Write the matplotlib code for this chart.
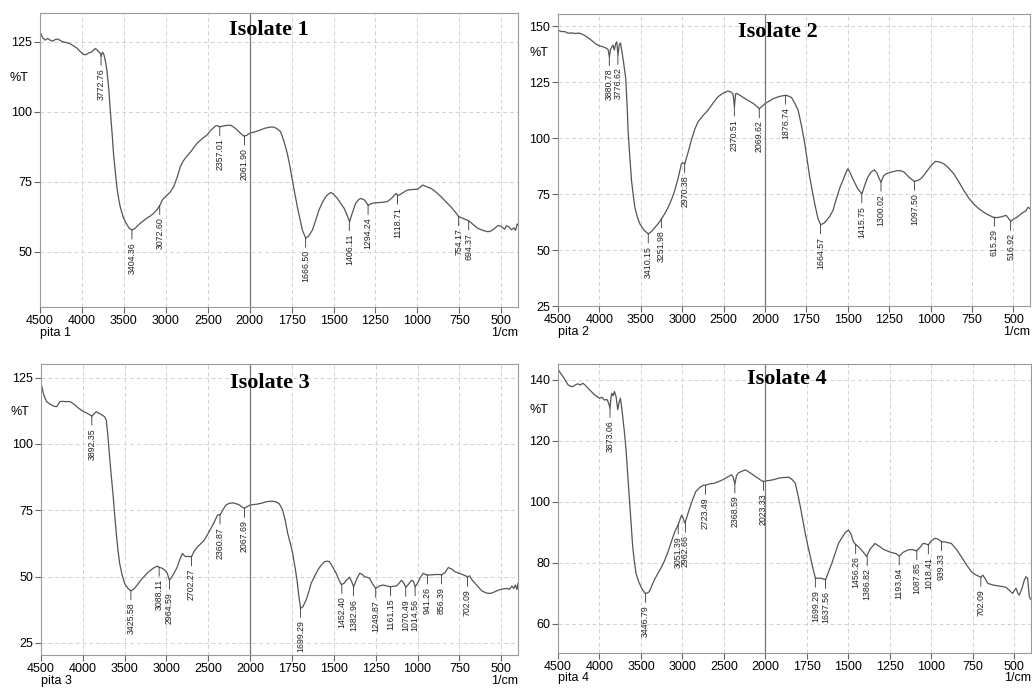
import numpy as np
import matplotlib
matplotlib.use("Agg")
import matplotlib.pyplot as plt

plt.rcParams['font.family'] = ['Liberation Sans', 'DejaVu Sans']

# ---- spectrum data (wavenumber 1/cm, %T) ----
w1 = [4500, 4470, 4440, 4410, 4380, 4350, 4320, 4290, 4261, 4230, 4200, 4170, 4141, 4100, 4062, 4020,
      3982, 3950, 3922, 3890, 3863, 3840, 3823, 3800, 3783, 3772, 3755, 3740, 3720, 3703, 3680, 3663,
      3640, 3624, 3600, 3584, 3560, 3544, 3510, 3484, 3440, 3404, 3370, 3340, 3305, 3260, 3225, 3180,
      3145, 3100, 3072, 3040, 3010, 2986, 2950, 2906, 2860, 2827, 2790, 2747, 2700, 2660, 2628, 2570,
      2508, 2460, 2408, 2380, 2357, 2320, 2280, 2229, 2190, 2149, 2110, 2070, 2040, 2000, 1970, 1936,
      1910, 1880, 1856, 1836, 1816, 1796, 1776, 1760, 1746, 1730, 1716, 1700, 1686, 1666, 1648, 1626,
      1605, 1587, 1567, 1547, 1530, 1517, 1500, 1477, 1455, 1437, 1418, 1404, 1390, 1368, 1350, 1338,
      1320, 1308, 1294, 1270, 1238, 1210, 1178, 1150, 1128, 1118, 1108, 1080, 1059, 1030, 999, 980,
      969, 945, 919, 890, 859, 830, 800, 775, 754, 725, 694, 670, 640, 610, 580, 560, 540, 520, 505,
      490, 480, 470, 455, 440, 425, 415, 405, 400]
t1 = [128.6, 126.5, 125.6, 126.2, 125.6, 125.2, 125.8, 126.0, 125.5, 125.0, 124.8, 124.6, 124.3, 123.5,
      122.8, 121.5, 120.5, 120.4, 121.0, 121.3, 122.0, 122.6, 122.2, 121.4, 121.0, 119.8, 121.3, 120.6,
      118.0, 114.9, 108.0, 100.6, 92.0, 85.0, 78.0, 73.0, 68.5, 66.0, 62.5, 60.7, 58.5, 57.7, 58.2, 59.2,
      60.1, 61.2, 62.0, 62.8, 63.7, 65.2, 66.5, 68.5, 69.5, 70.2, 71.2, 73.2, 77.0, 80.4, 82.5, 84.2,
      85.8, 87.5, 88.7, 90.3, 91.7, 93.5, 94.9, 95.0, 94.6, 94.9, 95.1, 95.2, 94.5, 93.5, 92.3, 91.3,
      91.5, 92.3, 92.8, 93.5, 94.1, 94.5, 94.5, 93.9, 92.9, 89.5, 85.1, 80.5, 75.6, 70.5, 66.0, 61.5,
      57.7, 54.8, 55.6, 57.7, 61.5, 64.9, 67.5, 69.6, 70.6, 71.1, 70.6, 69.0, 67.0, 65.5, 62.8, 60.7,
      63.5, 67.3, 68.6, 69.0, 68.6, 67.9, 66.5, 67.3, 67.5, 67.6, 67.9, 69.3, 70.8, 70.2, 70.2, 71.3,
      72.0, 72.2, 72.3, 73.2, 73.8, 73.2, 72.6, 71.3, 69.6, 67.8, 66.0, 64.2, 62.5, 61.8, 61.0, 59.8,
      58.3, 57.6, 57.1, 57.4, 58.3, 59.3, 59.2, 58.5, 58.0, 59.2, 58.9, 57.8, 58.5, 57.6, 59.9, 59.5]

w2 = [4500, 4460, 4412, 4380, 4340, 4292, 4250, 4212, 4180, 4152, 4100, 4050, 4000, 3950, 3910, 3895,
      3880, 3865, 3850, 3835, 3820, 3805, 3790, 3776, 3760, 3745, 3730, 3712, 3695, 3682, 3665, 3652,
      3630, 3612, 3590, 3572, 3540, 3510, 3460, 3410, 3370, 3330, 3290, 3251, 3210, 3170, 3130, 3090,
      3050, 3010, 2990, 2970, 2930, 2890, 2850, 2810, 2750, 2690, 2630, 2570, 2510, 2450, 2410, 2385,
      2370, 2355, 2340, 2290, 2240, 2190, 2140, 2100, 2069, 2035, 2000, 1975, 1950, 1925, 1900, 1876,
      1860, 1840, 1820, 1800, 1780, 1760, 1745, 1730, 1715, 1700, 1680, 1664, 1645, 1630, 1610, 1590,
      1575, 1560, 1545, 1530, 1515, 1500, 1485, 1470, 1455, 1440, 1415, 1400, 1380, 1360, 1340, 1325,
      1310, 1300, 1285, 1270, 1240, 1200, 1180, 1160, 1130, 1100, 1080, 1060, 1040, 1020, 995, 970,
      945, 920, 890, 860, 830, 800, 770, 740, 710, 680, 650, 620, 595, 570, 545, 530, 516, 500, 480,
      460, 440, 425, 412, 400]
t2 = [148.2, 147.6, 147.5, 146.8, 147.0, 146.7, 146.9, 146.5, 145.8, 145.2, 143.8, 142.2, 141.2, 140.7,
      140.0, 139.5, 136.3, 139.8, 140.7, 141.5, 139.3, 142.0, 143.0, 137.0, 141.8, 142.5, 139.0, 134.8,
      130.0, 126.6, 114.0, 102.0, 90.0, 81.0, 74.0, 69.1, 64.5, 61.6, 58.8, 57.2, 58.3, 60.1, 61.8, 63.9,
      66.3, 69.1, 72.5, 76.6, 82.0, 88.5, 89.0, 88.5, 93.5, 99.0, 103.8, 107.2, 110.0, 112.4, 115.5,
      118.4, 120.0, 121.0, 120.6, 119.5, 113.9, 119.8, 119.9, 118.8, 117.6, 116.5, 115.4, 114.2, 113.1,
      114.2, 115.4, 116.5, 117.6, 118.3, 118.8, 119.1, 118.8, 118.1, 115.5, 112.4, 105.5, 97.5, 90.0,
      82.5, 76.5, 70.6, 64.0, 61.3, 62.0, 63.1, 65.0, 67.6, 71.5, 75.1, 78.5, 81.0, 84.0, 86.3, 84.3,
      81.8, 79.5, 77.3, 75.1, 78.5, 82.5, 84.8, 85.8, 84.5, 81.8, 80.3, 83.0, 84.0, 84.8, 85.5, 85.4,
      84.8, 82.5, 80.7, 81.0, 81.8, 83.5, 85.5, 88.0, 89.6, 89.3, 88.5, 86.5, 84.0, 80.5, 76.6, 73.2,
      70.6, 68.5, 66.9, 65.6, 64.6, 64.5, 64.9, 65.5, 64.2, 62.8, 63.8, 64.6, 65.8, 66.9, 67.5, 69.1, 68.5]

w3 = [4500, 4485, 4472, 4450, 4432, 4400, 4372, 4340, 4312, 4290, 4272, 4240, 4210, 4180, 4152, 4120,
      4092, 4050, 3992, 3960, 3932, 3910, 3892, 3870, 3840, 3820, 3800, 3770, 3740, 3720, 3700, 3680,
      3660, 3640, 3620, 3600, 3580, 3560, 3530, 3500, 3460, 3425, 3390, 3350, 3310, 3270, 3230, 3190,
      3150, 3110, 3088, 3050, 3020, 2990, 2975, 2964, 2945, 2910, 2870, 2840, 2810, 2790, 2770, 2740,
      2710, 2702, 2670, 2630, 2590, 2550, 2510, 2470, 2430, 2390, 2370, 2360, 2330, 2290, 2250, 2210,
      2170, 2130, 2100, 2070, 2040, 2000, 1960, 1936, 1910, 1896, 1870, 1846, 1826, 1806, 1790, 1776,
      1760, 1746, 1732, 1720, 1710, 1699, 1685, 1666, 1650, 1636, 1616, 1596, 1576, 1556, 1540, 1526,
      1506, 1486, 1470, 1456, 1440, 1425, 1406, 1393, 1382, 1365, 1346, 1330, 1316, 1300, 1286, 1270,
      1250, 1230, 1206, 1180, 1161, 1140, 1126, 1110, 1096, 1080, 1070, 1055, 1036, 1025, 1014, 1000,
      985, 966, 946, 926, 900, 876, 856, 836, 816, 796, 776, 750, 726, 710, 702, 690, 675, 656, 636,
      616, 590, 566, 540, 516, 490, 466, 450, 436, 425, 415, 406, 400]
t3 = [122.9, 121.0, 119.1, 117.2, 116.0, 115.2, 114.7, 114.2, 114.1, 115.2, 116.0, 116.1, 116.0, 116.0,
      116.0, 115.3, 114.7, 113.5, 112.2, 111.8, 111.3, 110.9, 110.5, 111.2, 112.2, 111.8, 111.5, 110.9,
      110.3, 109.0, 103.0, 95.2, 88.0, 81.4, 73.5, 66.3, 60.0, 55.0, 50.5, 47.4, 45.5, 44.6, 45.3, 46.8,
      48.5, 49.9, 51.3, 52.4, 53.3, 53.9, 53.5, 53.1, 52.4, 51.2, 49.5, 48.6, 49.5, 51.2, 53.7, 56.5,
      58.7, 58.0, 57.5, 57.6, 57.5, 57.4, 59.5, 61.2, 62.4, 63.7, 65.8, 68.1, 70.5, 73.2, 73.4, 73.2,
      74.9, 77.0, 77.6, 77.8, 77.5, 77.0, 76.3, 75.7, 76.3, 77.0, 77.3, 77.6, 78.1, 78.3, 78.4, 78.2,
      77.4, 75.1, 71.0, 66.3, 62.5, 58.7, 53.5, 48.6, 43.0, 38.0, 38.6, 41.1, 44.2, 47.4, 50.0, 52.4,
      54.3, 55.6, 55.8, 55.6, 53.5, 51.2, 48.8, 47.0, 47.4, 48.6, 49.7, 48.0, 46.1, 48.8, 51.2, 50.8,
      49.9, 49.7, 49.3, 47.3, 45.5, 46.4, 46.8, 46.4, 46.1, 46.4, 46.4, 47.5, 48.6, 47.2, 45.9, 47.0,
      48.6, 48.2, 46.1, 47.5, 49.5, 51.2, 50.6, 50.6, 50.7, 50.8, 50.6, 51.5, 53.4, 52.8, 51.8, 51.2,
      50.6, 50.2, 49.7, 50.3, 48.8, 47.4, 46.0, 44.6, 43.8, 43.6, 44.2, 44.9, 45.3, 45.5, 45.2, 46.4,
      45.5, 46.8, 45.1, 47.4]

w4 = [4500, 4470, 4440, 4410, 4380, 4350, 4320, 4290, 4260, 4230, 4200, 4170, 4140, 4100, 4060, 4030,
      4000, 3970, 3940, 3910, 3890, 3873, 3860, 3852, 3835, 3820, 3800, 3780, 3765, 3748, 3735, 3720,
      3700, 3680, 3660, 3640, 3620, 3600, 3580, 3560, 3530, 3500, 3470, 3446, 3420, 3400, 3370, 3340,
      3300, 3260, 3220, 3180, 3140, 3100, 3075, 3051, 3030, 3010, 2990, 2970, 2950, 2920, 2880, 2840,
      2790, 2740, 2723, 2680, 2620, 2570, 2520, 2460, 2410, 2390, 2368, 2350, 2330, 2290, 2240, 2200,
      2160, 2120, 2080, 2050, 2023, 2000, 1980, 1950, 1920, 1890, 1860, 1840, 1820, 1805, 1790, 1775,
      1760, 1745, 1730, 1715, 1699, 1680, 1665, 1650, 1637, 1620, 1600, 1580, 1560, 1540, 1520, 1500,
      1485, 1470, 1456, 1440, 1430, 1410, 1390, 1370, 1340, 1315, 1290, 1265, 1240, 1215, 1193, 1170,
      1140, 1115, 1090, 1070, 1050, 1035, 1018, 1000, 980, 960, 939, 910, 880, 850, 820, 790, 760, 735,
      710, 702, 690, 675, 660, 630, 600, 575, 550, 530, 510, 500, 490, 480, 470, 455, 440, 430, 420,
      410, 400]
t4 = [143.5, 142.2, 141.1, 139.8, 138.4, 137.9, 137.8, 138.4, 138.7, 138.3, 138.9, 138.2, 137.3, 136.2,
      135.1, 134.6, 134.0, 134.3, 133.4, 133.6, 132.4, 130.7, 134.5, 135.6, 134.8, 136.2, 134.5, 130.2,
      132.5, 134.0, 131.5, 128.0, 123.0, 117.0, 109.0, 100.7, 92.5, 85.4, 80.5, 76.6, 74.0, 72.2, 70.8,
      70.0, 70.2, 70.6, 72.5, 74.4, 76.4, 78.3, 80.5, 83.2, 86.5, 89.7, 91.3, 92.5, 94.2, 95.7, 94.5,
      93.0, 94.8, 97.4, 100.6, 103.4, 104.8, 105.6, 105.4, 105.9, 106.1, 106.6, 107.2, 108.1, 108.9,
      108.2, 105.9, 108.5, 109.4, 110.0, 110.5, 109.8, 109.1, 108.3, 107.6, 107.0, 106.7, 106.9, 107.0,
      107.3, 107.8, 108.0, 108.1, 107.4, 106.1, 102.5, 98.5, 94.0, 89.7, 85.8, 82.1, 78.5, 75.0, 75.0,
      75.0, 74.7, 74.6, 77.0, 79.9, 83.2, 86.4, 88.2, 89.9, 90.8, 89.5, 87.0, 86.0, 85.3, 84.8, 83.5,
      82.1, 84.5, 86.4, 85.5, 84.5, 83.9, 83.4, 83.1, 82.3, 83.5, 84.3, 84.4, 84.0, 85.0, 86.4, 86.3,
      85.9, 87.3, 88.1, 87.8, 87.0, 86.8, 86.4, 84.5, 82.1, 79.5, 77.2, 76.2, 75.5, 75.3, 76.0, 74.8,
      73.3, 72.8, 72.5, 72.3, 72.0, 71.0, 70.0, 71.0, 71.7, 70.2, 69.5, 71.5, 74.4, 75.5, 74.9, 69.0, 68.0]

# ---- labelled peaks (wavenumber, %T at the peak) ----
pk1 = [3772.76, 3404.36, 3072.60, 2357.01, 2061.90, 1666.50, 1406.11, 1294.24, 1118.71, 754.17, 694.37]
pt1 = [119.8, 57.7, 66.5, 94.6, 91.3, 54.8, 60.7, 66.5, 70.2, 62.5, 61.0]
pk2 = [3880.78, 3776.62, 3410.15, 3251.98, 2970.38, 2370.51, 2069.62, 1876.74, 1664.57, 1415.75,
       1300.02, 1097.50, 615.29, 516.92]
pt2 = [136.3, 137.0, 57.2, 63.9, 88.5, 113.9, 113.1, 119.1, 61.3, 75.1, 80.3, 80.7, 64.6, 62.8]
pk3 = [3892.35, 3425.58, 3088.11, 2964.59, 2702.27, 2360.87, 2067.69, 1699.29, 1452.40, 1382.96,
       1249.87, 1161.15, 1070.49, 1014.56, 941.26, 856.39, 702.09]
pt3 = [110.5, 44.6, 53.5, 48.6, 57.4, 73.2, 75.7, 38.0, 47.0, 46.1, 45.5, 46.1, 45.9, 46.1, 50.6, 50.6, 49.7]
pk4 = [3873.06, 3446.79, 3051.39, 2962.66, 2723.49, 2368.59, 2023.33, 1699.29, 1637.56, 1456.26,
       1386.82, 1193.94, 1087.85, 1018.41, 939.33, 702.09]
pt4 = [130.7, 70.0, 92.5, 93.0, 105.4, 105.9, 106.7, 75.0, 74.6, 86.0, 82.1, 82.3, 84.0, 85.9, 87.0, 75.3]

titles = ['Isolate 1', 'Isolate 2', 'Isolate 3', 'Isolate 4']
names = ['pita 1', 'pita 2', 'pita 3', 'pita 4']
xticks = [4500, 4000, 3500, 3000, 2500, 2000, 1750, 1500, 1250, 1000, 750, 500]


# FTIR axis: scale doubles below 2000 1/cm
def fwd(w):
    w = np.asarray(w, dtype=float)
    return np.where(w >= 2000, w, 2 * w - 2000)


def inv(p):
    p = np.asarray(p, dtype=float)
    return np.where(p >= 2000, p, (p + 2000) / 2)


def panel(rect, w, t, pk, pt, ylim, yticks, title, name, tpos, ppos):
    ax = fig.add_axes(rect)
    ax.set_xscale('function', functions=(fwd, inv))
    ax.plot(w, t, color='#555555', lw=0.9)
    ax.set_xlim(4500, 400)
    ax.set_ylim(*ylim)
    ax.set_xticks(xticks)
    ax.set_xticklabels([str(v) for v in xticks])
    ax.set_yticks(yticks)
    ax.tick_params(labelsize=9, length=4, color='#666666', pad=1.5)
    ax.minorticks_off()
    ax.grid(True, linestyle=(0, (4, 3)), color='#d2d2d2', lw=0.7)
    ax.axvline(2000, color='#777777', lw=0.9)
    for s in ax.spines.values():
        s.set_color('#9a9a9a')
    # peak labels hang below the curve on a short lead line
    for x, y in zip(pk, pt):
        ax.annotate(f'{x:.2f}', xy=(x, y), xytext=(0, -8.5), textcoords='offset points',
                    rotation=90, ha='center', va='top', fontsize=6.3, color='#222222',
                    arrowprops=dict(arrowstyle='-', lw=0.6, color='#333333', shrinkA=0, shrinkB=0))
    ax.text(tpos[0], tpos[1], title, transform=ax.transAxes, ha='center', va='center',
            fontsize=16, fontweight='bold', family='Liberation Serif')
    ax.text(ppos[0], ppos[1], '%T', transform=ax.transAxes, ha='center', va='center', fontsize=9)
    ax.text(0.0, -0.088, name, transform=ax.transAxes, ha='left', va='center', fontsize=9)
    ax.text(1.0, -0.088, '1/cm', transform=ax.transAxes, ha='right', va='center', fontsize=9)
    return ax


fig = plt.figure(figsize=(10.32, 6.88), dpi=100)

panel([0.0388, 0.5538, 0.4632, 0.4273], w1, t1, pk1, pt1, (30.2, 135.3), [50, 75, 100, 125],
      titles[0], names[0], (0.479, 0.942), (-0.044, 0.779))
panel([0.5407, 0.5552, 0.4574, 0.4244], w2, t2, pk2, pt2, (25, 155.4), [25, 50, 75, 100, 125, 150],
      titles[1], names[1], (0.466, 0.938), (-0.04, 0.866))
panel([0.0397, 0.0480, 0.4622, 0.4230], w3, t3, pk3, pt3, (20.4, 130.2), [25, 50, 75, 100, 125],
      titles[2], names[2], (0.48, 0.935), (-0.044, 0.835))
panel([0.5407, 0.0509, 0.4583, 0.4200], w4, t4, pk4, pt4, (50.5, 145.2), [60, 80, 100, 120, 140],
      titles[3], names[3], (0.484, 0.948), (-0.04, 0.84))

fig.savefig('out.png', dpi=100)
